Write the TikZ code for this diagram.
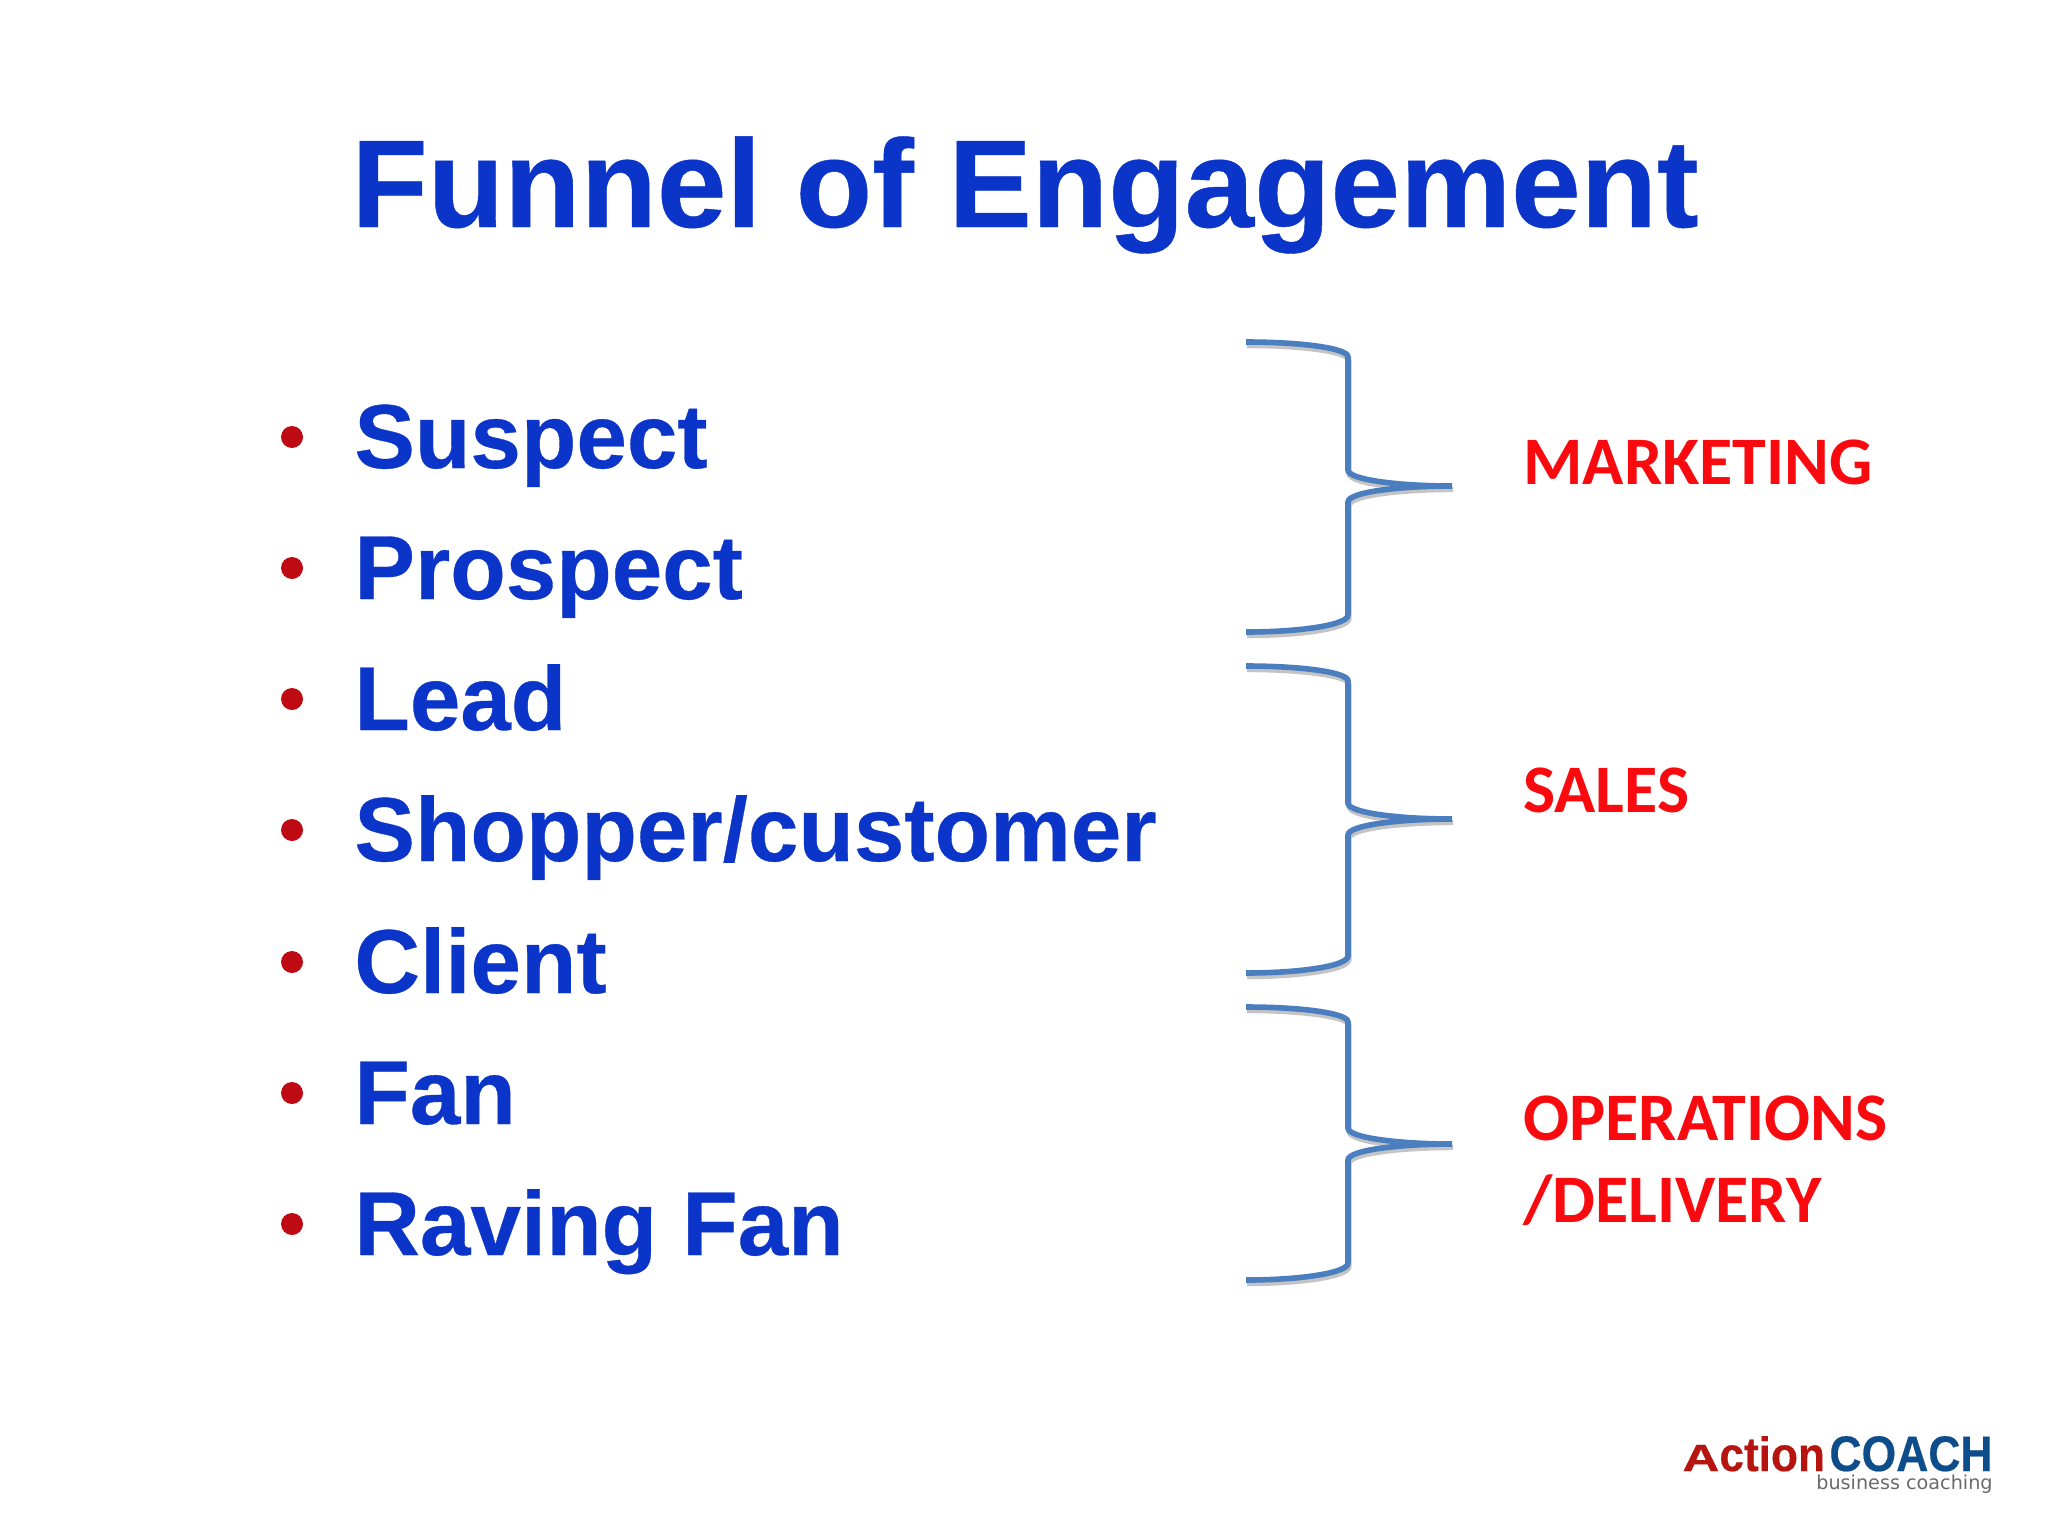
\documentclass[tikz,border=0pt]{standalone}
\usepackage{fontspec}
\setmainfont{Liberation Sans}
\newfontfamily\hvb{Liberation Sans Bold}[FakeBold=0.35]
\newfontfamily\carl{Carlito}
\newfontfamily\djv{DejaVu Sans}
\definecolor{ttl}{HTML}{0B35C8}
\definecolor{bul}{HTML}{BE0A12}
\definecolor{brc}{HTML}{4A7EBF}
\definecolor{shd}{HTML}{C4C4C4}
\definecolor{lab}{HTML}{F80A0F}
\definecolor{lred}{HTML}{B5140F}
\definecolor{lblue}{HTML}{0E4D8C}
\definecolor{lgray}{HTML}{6A6A6A}
\newcommand{\bracepath}[3]{% top, tip, bottom y
  (1246,#1) .. controls (1300,#1) and (1348,{#1+6}) .. (1348,{#1+15})
  -- (1348,{#2-16}) .. controls (1348,{#2-6}) and (1400,#2) .. (1452,#2)
  (1452,#2) .. controls (1400,#2) and (1348,{#2+6}) .. (1348,{#2+16})
  -- (1348,{#3-17}) .. controls (1348,{#3-7}) and (1300,#3) .. (1246,#3)}
\newcommand{\bracket}[3]{%
  \draw[shd,line width=2.6pt,xshift=0.5pt,yshift=-1.8pt] \bracepath{#1}{#2}{#3};
  \draw[brc,line width=2.8pt] \bracepath{#1}{#2}{#3};}
\tikzset{
  title/.style={anchor=base west,inner sep=0,text=ttl,font=\fontsize{62.5}{62.5}\selectfont\hvb},
  item/.style={anchor=base west,inner sep=0,text=ttl,font=\fontsize{45.4}{45.4}\selectfont\hvb},
  dot/.style={circle,fill=bul,inner sep=0,minimum size=11pt},
  tag/.style={anchor=base west,inner sep=0,text=lab,font=\fontsize{34}{34}\selectfont\carl\bfseries},
}
\begin{document}
\begin{tikzpicture}[x=0.5pt,y=-0.5pt]
\useasboundingbox (0,0) rectangle (2048,1536);
\fill[white] (0,0) rectangle (2048,1536);
\node[title] (t) at (351,227) {Funnel of Engagement};
\foreach \n/\y/\s in {a/468/Suspect,b/599/Prospect,c/730/Lead,d/861/{Shopper/customer},e/993/Client,f/1124/Fan,g/1255/Raving Fan}{
  \node[item] (i\n) at (354,\y) {\s};
  \node[dot] (b\n) at (292,{\y-31}) {};
}
\bracket{342}{486}{632}
\bracket{666}{819}{973}
\bracket{1007}{1144}{1280}
\node[tag] (m) at (1523,484) {MARKETING};
\node[tag] (s) at (1523,812) {SALES};
\node[tag] (o) at (1523,1140) {OPERATIONS};
\node[tag] (d) at (1523,1222) {/DELIVERY};
\node[anchor=base west,inner sep=0,text=lred,font=\hvb] (l1) at (1682,1471) {\scalebox{1.35}[1]{\fontsize{19}{19}\selectfont A}\scalebox{0.92}[1]{\fontsize{24}{24}\selectfont ction}};
\node[anchor=base east,inner sep=0,text=lblue,font=\hvb] (l2) at (1993,1471) {\scalebox{0.89}[1]{\fontsize{25}{25}\selectfont COACH}};
\node[anchor=base east,inner sep=0,text=lgray,font=\fontsize{9.6}{10}\selectfont\djv] (l3) at (1993,1489) {business coaching};
\end{tikzpicture}
\end{document}
